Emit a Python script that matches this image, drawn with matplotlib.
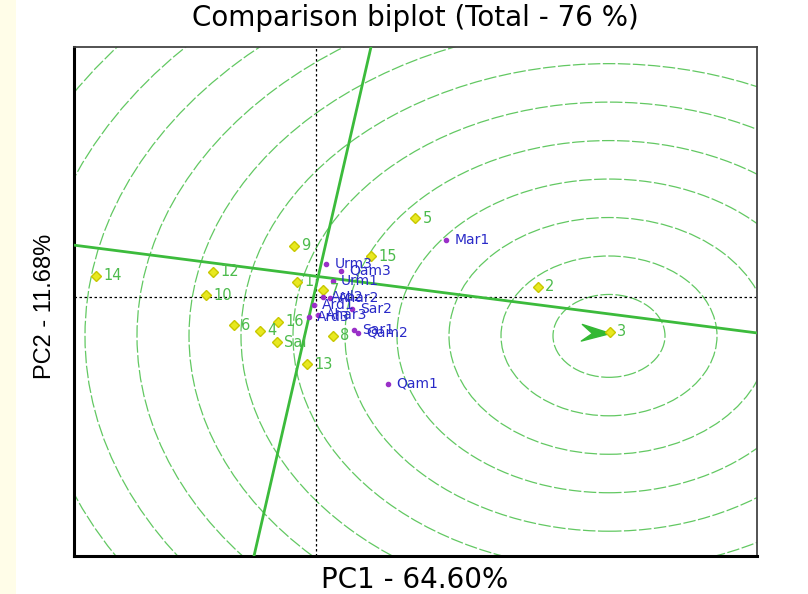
import matplotlib.pyplot as plt
import matplotlib.patches as patches

# genotype scores (yellow diamonds)
gen_names = ["14", "12", "10", "9", "1", "7", "15", "5", "2", "3",
             "6", "4", "16", "Sai", "8", "13"]
gen_pc1 = [-4.40, -2.06, -2.21, -0.45, -0.39, 0.13, 1.09, 1.98, 4.43, 5.87,
           -1.65, -1.12, -0.77, -0.79, 0.33, -0.19]
gen_pc2 = [0.57, 0.68, 0.05, 1.39, 0.41, 0.19, 1.11, 2.13, 0.28, -0.94,
           -0.76, -0.91, -0.67, -1.22, -1.05, -1.81]

# environment scores (purple points)
env_names = ["Urm3", "Qam3", "Urm1", "Ard2", "Ahar2", "Ard1", "Sar2",
             "Ard3", "Ahar3", "Sar1", "Qam2", "Qam1", "Mar1"]
env_pc1 = [0.20, 0.50, 0.33, 0.13, 0.28, -0.05, 0.71,
           -0.15, 0.04, 0.75, 0.84, 1.44, 2.60]
env_pc2 = [0.89, 0.71, 0.43, 0.01, -0.03, -0.22, -0.31,
           -0.53, -0.49, -0.89, -0.97, -2.35, 1.54]

# ideal genotype and concentric rings
ideal_pc1, ideal_pc2 = 5.86, -1.05
arrow_pc1, arrow_pc2 = 5.88, -0.97
ring_radii = [1.12 + 1.04 * k for k in range(13)]

# average environment axis and its perpendicular
aea_x = [-4.82, 8.82]
aea_y = [1.40, -0.97]
perp_x = [1.10, -1.24]
perp_y = [6.76, -7.00]

fig = plt.figure(figsize=(8.08, 5.94), dpi=100)
plt.rcParams['font.family'] = ['DejaVu Sans']
fig.patches.append(patches.Rectangle((0, 0), 0.02, 1, transform=fig.transFigure,
                                     facecolor='#fffde8', edgecolor='none', zorder=0))
ax = fig.add_axes([74 / 808, 1 - 556 / 594, 683 / 808, 509 / 594])

# rings
for r in ring_radii:
    c = patches.Circle((ideal_pc1, ideal_pc2), r, fill=False, edgecolor='#62c862',
                       linewidth=0.9, linestyle=(0, (10, 2)), zorder=1)
    ax.add_patch(c)

# axes through origin
ax.axhline(0, color='black', linestyle=(0, (2, 2)), linewidth=0.9, zorder=2)
ax.axvline(0, color='black', linestyle=(0, (2, 2)), linewidth=0.9, zorder=2)

# AEA lines
ax.plot(aea_x, aea_y, color='#3cbb3c', linewidth=2, zorder=3)
ax.plot(perp_x, perp_y, color='#3cbb3c', linewidth=2, zorder=3)

# ideal point arrow
arrow_marker = [(0, 0), (-28, 9), (-18, 0), (-29, -7.5), (0, 0)]
ax.plot(arrow_pc1, arrow_pc2, marker=arrow_marker, markersize=42,
        color='#33b833', linestyle='none', zorder=4)

# genotypes
ax.plot(gen_pc1, gen_pc2, marker='D', markersize=5, linestyle='none',
        markerfacecolor='#e8e820', markeredgecolor='#c8c800', zorder=5)
for name, x, y in zip(gen_names, gen_pc1, gen_pc2):
    ax.annotate(name, (x, y), xytext=(5.5, 0), textcoords='offset points',
                ha='left', va='center', color='#4cbb4c', fontsize=10.5, zorder=6)

# environments
ax.plot(env_pc1, env_pc2, marker='o', markersize=3, linestyle='none',
        color='#9a30c8', zorder=5)
for name, x, y in zip(env_names, env_pc1, env_pc2):
    ax.annotate(name, (x, y), xytext=(6, 0), textcoords='offset points',
                ha='left', va='center', color='#2a2ac8', fontsize=10, zorder=6)

ax.set_xlim(-4.84, 8.82)
ax.set_ylim(-7.0, 6.76)
ax.set_xticks([])
ax.set_yticks([])
for side in ['left', 'bottom']:
    ax.spines[side].set_linewidth(2.2)
    ax.spines[side].set_color('black')
for side in ['top', 'right']:
    ax.spines[side].set_linewidth(1.3)
    ax.spines[side].set_color('#444444')

fig.text(415 / 808, 1 - 18 / 594, "Comparison biplot (Total - 76 %)",
         ha='center', va='center', fontsize=20)
fig.text(415 / 808, 1 - 580 / 594, "PC1 - 64.60%",
         ha='center', va='center', fontsize=20)
fig.text(45 / 808, 1 - 306 / 594, "PC2 - 11.68%", rotation=90,
         ha='center', va='center', fontsize=17, family='Liberation Sans')

fig.savefig("out.png", dpi=100)
